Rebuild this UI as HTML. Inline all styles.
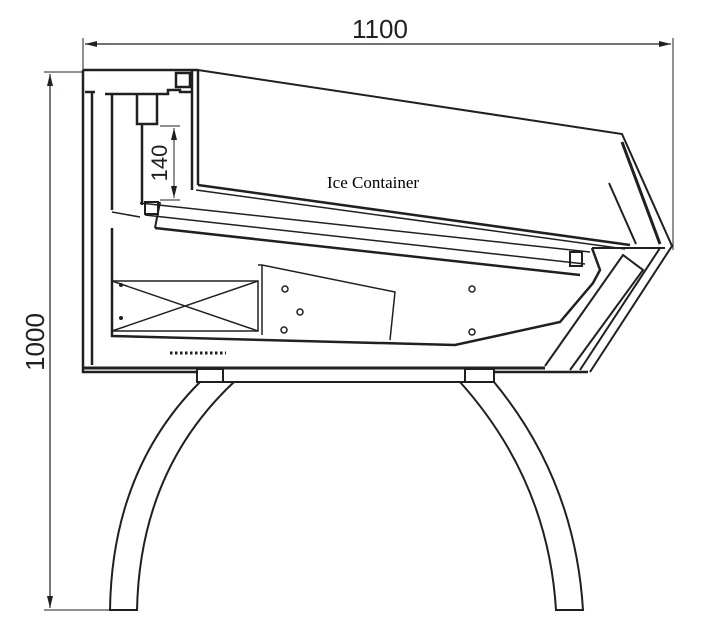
<!DOCTYPE html>
<html><head><style>body{margin:0;background:#fff}svg{display:block}</style></head><body>
<svg width="718" height="626" viewBox="0 0 718 626" xmlns="http://www.w3.org/2000/svg" fill="none" stroke="#231f20" stroke-width="2" stroke-linejoin="miter">
<!-- dimension 1100 -->
<line x1="83" y1="38" x2="83" y2="72" stroke-width="1"/>
<line x1="673" y1="38" x2="673" y2="250" stroke-width="1"/>
<line x1="85" y1="44" x2="671" y2="44" stroke-width="1.2"/>
<path d="M85 44 l12 -3 v6z M671 44 l-12 -3 v6z" fill="#231f20" stroke="none"/>
<text x="380" y="38" font-family="Liberation Sans, sans-serif" font-size="26" fill="#231f20" stroke="none" text-anchor="middle">1100</text>
<!-- dimension 1000 -->
<line x1="44" y1="72" x2="84" y2="72" stroke-width="1"/>
<line x1="44" y1="610" x2="110" y2="610" stroke-width="1"/>
<line x1="50" y1="74" x2="50" y2="608" stroke-width="1.2"/>
<path d="M50 74 l-3 12 h6z M50 608 l-3 -12 h6z" fill="#231f20" stroke="none"/>
<text transform="translate(44,342) rotate(-90)" font-family="Liberation Sans, sans-serif" font-size="26" fill="#231f20" stroke="none" text-anchor="middle">1000</text>
<!-- cabinet outer -->
<path d="M83 70 H198 M83 70 V372 H197 M494 372 H588" stroke-width="2.5"/>
<path d="M83 368 H545" stroke-width="3"/>
<path d="M198 70 L622 134 L672 246 L590 372" stroke-width="2"/>
<path d="M660 248 L580 370" stroke-width="2"/>
<path d="M622 142 L660 244" stroke-width="3"/>
<path d="M609 183 L636 244" stroke-width="2"/>
<!-- inner top area -->
<path d="M92 92 V365" stroke-width="2.5"/>
<path d="M85 92 H95 M105 94 H168 V90 H180 V92 H192" stroke-width="2.5"/>
<rect x="176" y="73" width="14" height="14" stroke-width="2.5"/>
<path d="M192 70 V190 M198 70 V185" stroke-width="2.5"/>
<path d="M198 185 L630 245" stroke-width="2.5"/>
<path d="M196 190 L625 249" stroke-width="1.5"/>
<path d="M112 94 V210 M137 95 V124 H157 V95 M142 124 V205" stroke-width="2.5"/>
<!-- 140 dimension -->
<line x1="160" y1="126" x2="180" y2="126" stroke-width="1"/>
<line x1="160" y1="200" x2="180" y2="200" stroke-width="1"/>
<line x1="174" y1="128" x2="174" y2="198" stroke-width="1"/>
<path d="M174 128 l-3 12 h6z M174 198 l-3 -12 h6z" fill="#231f20" stroke="none"/>
<text transform="translate(167,163) rotate(-90)" font-family="Liberation Sans, sans-serif" font-size="22" fill="#231f20" stroke="none" text-anchor="middle">140</text>
<text x="327" y="188" font-family="Liberation Serif, serif" font-size="17" fill="#000" stroke="none">Ice Container</text>
<!-- shelf -->
<path d="M140 203 L590 252" stroke-width="1.5"/>
<path d="M145 215 L585 264" stroke-width="1.5"/>
<path d="M155 228 L580 275" stroke-width="2.5"/>
<path d="M155 228 L160 202" stroke-width="2"/>
<rect x="145" y="202" width="13" height="12" stroke-width="2"/>
<path d="M112 212 L140 217" stroke-width="1.5"/>
<rect x="570" y="252" width="12" height="14" stroke-width="2"/>
<path d="M592 248 H665" stroke-width="2"/>
<!-- inner body -->
<path d="M112 228 V336 L455 345 L560 322 L593 283 L600 270 L592 248" stroke-width="2.5"/>
<path d="M545 366 L623 255 L643 270 L570 370" stroke-width="2"/>
<rect x="112" y="281" width="146" height="50" stroke-width="1.5" />
<path d="M112 281 L258 331 M112 331 L258 281" stroke-width="1.5"/>
<path d="M258 265 H262 L395 292 L390 340" stroke-width="1.5"/>
<path d="M262 265 V335" stroke-width="1.5"/>
<g fill="#fff" stroke-width="1.5"><circle cx="285" cy="289" r="3"/><circle cx="300" cy="312" r="3"/><circle cx="284" cy="330" r="3"/><circle cx="472" cy="289" r="3"/><circle cx="472" cy="332" r="3"/></g>
<circle cx="121" cy="285" r="2" fill="#231f20" stroke="none"/><circle cx="121" cy="318" r="2" fill="#231f20" stroke="none"/>
<path d="M170 353 H226" stroke-width="3" stroke-dasharray="2.5 2.5"/>
<!-- legs -->
<rect x="197" y="369" width="26" height="13" stroke-width="2"/>
<rect x="465" y="369" width="29" height="13" stroke-width="2"/>
<path d="M223 382 H465" stroke-width="2"/>
<path d="M200 382 Q112 470 110 610 H137 Q140 470 234 382" stroke-width="2"/>
<path d="M494 382 Q575 480 583 610 H556 Q548 480 460 382" stroke-width="2"/>
</svg>
</body></html>
